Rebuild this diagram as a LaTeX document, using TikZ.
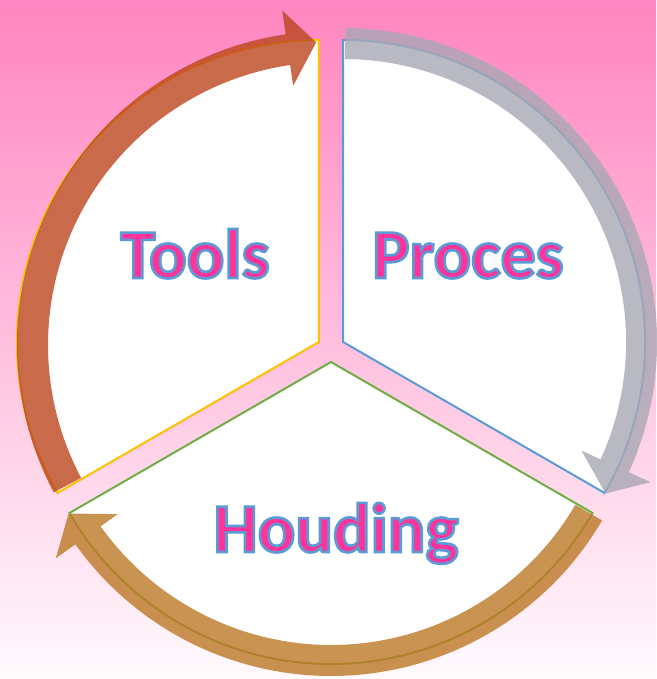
\documentclass[tikz,border=0pt]{standalone}
\usepackage{fontspec}
\setmainfont{Carlito}
\usetikzlibrary{calc}

\definecolor{toolsline}{RGB}{255,192,0}
\definecolor{procesline}{RGB}{91,155,213}
\definecolor{houdingline}{RGB}{112,173,71}
\definecolor{toolsarrow}{RGB}{188,69,30}
\definecolor{procesarrow}{RGB}{168,168,180}
\definecolor{houdingarrow}{RGB}{188,120,38}
\definecolor{textpink}{RGB}{255,51,153}
\definecolor{bgtop}{RGB}{255,133,192}
\definecolor{bgmid}{RGB}{255,192,222}
\definecolor{bgbottom}{RGB}{255,250,253}

% pink letters with a blue rim (fill, then stroke)
\newcommand{\rimtext}[1]{%
  \special{pdf:literal direct 2 Tr 2.6 w 0.357 0.608 0.835 RG}#1%
  \special{pdf:literal direct 0 Tr}}

\begin{document}
\begin{tikzpicture}[x=1pt, y=1pt,
  cycleseg/.style={fill=white, line width=2pt},
  cyclearrow/.style={fill=#1, fill opacity=0.8},
  cycletext/.style={font=\fontsize{70}{80}\selectfont\bfseries,
                    text=textpink, anchor=base, inner sep=0pt}
]
% background
\shade [top color=bgtop, middle color=bgmid, bottom color=bgbottom]
   (0,0) rectangle (656,-679);
\useasboundingbox (0,0) rectangle (656,-679);

% corners of the three segments
\coordinate (T) at (318.9,-342);
\coordinate (P) at (343.1,-342);
\coordinate (H) at (331,-362);
\coordinate (Tarr) at (331,-345);

\draw [cycleseg, draw=toolsline] (T) -- ++(90:302)
   arc [start angle=90, end angle=210, radius=302] -- cycle;
\draw [cycleseg, draw=procesline] (P) -- ++(90:302)
   arc [start angle=90, end angle=-30, radius=302] -- cycle;
\draw [cycleseg, draw=houdingline] (H) -- ++(-30:302)
   arc [start angle=-30, end angle=-150, radius=302] -- cycle;

% arrows round the cycle
\foreach \ctr/\from/\to/\col in {Tarr/208/92.8/toolsarrow,
                                 P/89.6/-30/procesarrow,
                                 H/-30.3/-150/houdingarrow}{
  \pgfmathsetmacro{\base}{\to+5.5}
  \fill [cyclearrow=\col] ($(\ctr)+(\from:314)$)
     arc [start angle=\from, end angle=\base, radius=314]
     -- ($(\ctr)+(\base:338)$) -- ($(\ctr)+(\to:303)$)
     -- ($(\ctr)+(\base:262)$) -- ($(\ctr)+(\base:283)$)
     arc [start angle=\base, end angle=\from, radius=283] -- cycle;
}

% labels
\node [cycletext] (tools) at (195,-278) {\rimtext{Tools}};
\node [cycletext] (proces) at (468,-278) {\rimtext{Proces}};
\node [cycletext] (houding) at (336,-552) {\rimtext{Houding}};
\end{tikzpicture}
\end{document}
